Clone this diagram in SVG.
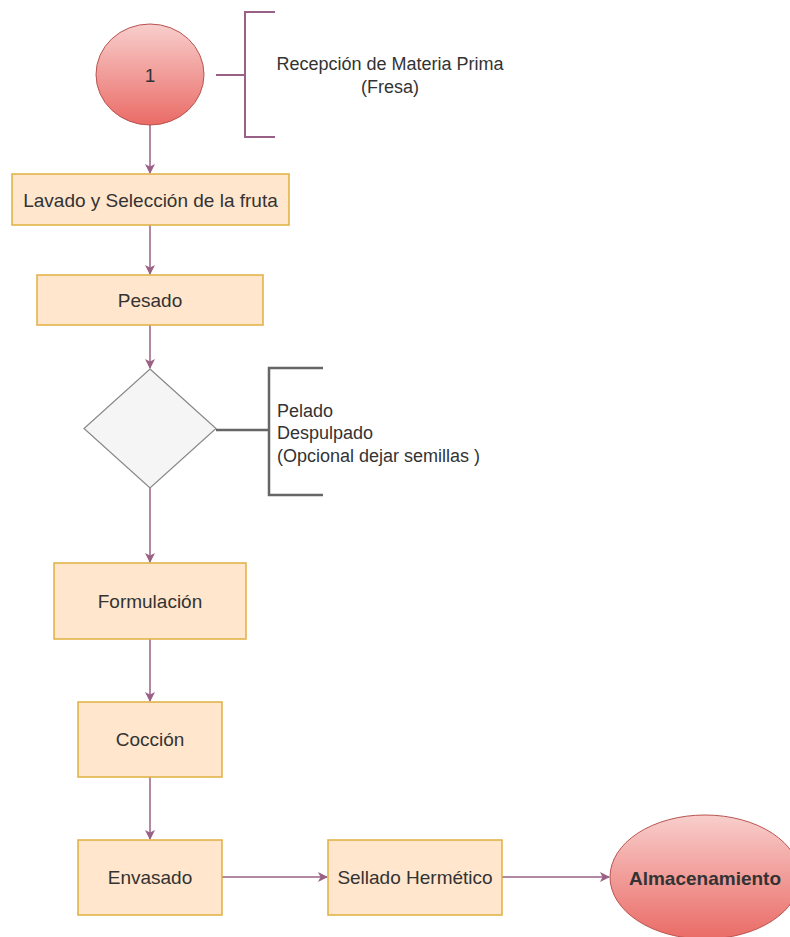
<svg xmlns="http://www.w3.org/2000/svg" width="790" height="937" viewBox="0 0 790 937">
<defs>
<linearGradient id="red" x1="0" y1="0" x2="0" y2="1">
<stop offset="0" stop-color="#f8cecc"/>
<stop offset="1" stop-color="#ea6b66"/>
</linearGradient>
<marker id="arr" viewBox="0 0 10 10" refX="9" refY="5" markerWidth="10" markerHeight="10" markerUnits="userSpaceOnUse" orient="auto">
<path d="M0,0 L10,5 L0,10 L2.5,5 Z" fill="#996185"/>
</marker>
<style>
.box{fill:#ffe6cc;stroke:#e0b040;stroke-width:1.5}
.circ{fill:url(#red);stroke:#b85450;stroke-width:1}
.t{font-family:"Liberation Sans",Arial,sans-serif;font-size:19px;fill:#333333;text-anchor:middle;dominant-baseline:central}
.lbl{font-family:"Liberation Sans",Arial,sans-serif;font-size:18px;fill:#333333;dominant-baseline:central}
.edge{fill:none;stroke:#996185;stroke-width:1.5;marker-end:url(#arr)}
</style>
</defs>
<g id="connectors">
<path class="edge" d="M150,125 V173"/>
<path class="edge" d="M150,225 V274"/>
<path class="edge" d="M150,325 V368"/>
<path class="edge" d="M150,488 V562"/>
<path class="edge" d="M150,639 V701"/>
<path class="edge" d="M150,777 V839"/>
<path class="edge" d="M222,877 H327"/>
<path class="edge" d="M502,877 H609"/>
</g>
<g id="start">
<ellipse class="circ" cx="150" cy="74.5" rx="54" ry="50.5"/>
<text class="t" x="150" y="75">1</text>
</g>
<g id="bracket1">
<path d="M216,75 H245 M275,12 H245 V137 H275" fill="none" stroke="#996185" stroke-width="2"/>
<text class="lbl" x="390" y="64" text-anchor="middle">Recepción de Materia Prima</text>
<text class="lbl" x="390" y="87" text-anchor="middle">(Fresa)</text>
</g>
<g id="lavado">
<rect class="box" x="12" y="174" width="277" height="51"/>
<text class="t" x="150.5" y="200">Lavado y Selección de la fruta</text>
</g>
<g id="pesado">
<rect class="box" x="37" y="275" width="226" height="50"/>
<text class="t" x="150" y="300">Pesado</text>
</g>
<g id="decision">
<polygon points="150,369 216,428.5 150,488 84,428.5" fill="#f5f5f5" stroke="#888888" stroke-width="1.2"/>
</g>
<g id="bracket2">
<path d="M216,430 H269 M323,368 H269 V495 H323" fill="none" stroke="#666666" stroke-width="2.5"/>
<text class="lbl" x="277" y="410.5">Pelado</text>
<text class="lbl" x="277" y="433">Despulpado</text>
<text class="lbl" x="277" y="455.5">(Opcional dejar semillas )</text>
</g>
<g id="formulacion">
<rect class="box" x="54" y="563" width="192" height="76"/>
<text class="t" x="150" y="601">Formulación</text>
</g>
<g id="coccion">
<rect class="box" x="78" y="702" width="144" height="75"/>
<text class="t" x="150" y="739.5">Cocción</text>
</g>
<g id="envasado">
<rect class="box" x="78" y="840" width="144" height="75"/>
<text class="t" x="150" y="877.5">Envasado</text>
</g>
<g id="sellado">
<rect class="box" x="328" y="840" width="174" height="75"/>
<text class="t" x="415" y="877.5">Sellado Hermético</text>
</g>
<g id="almacenamiento">
<ellipse class="circ" cx="705" cy="877" rx="95" ry="62"/>
<text class="t" x="705" y="878" font-weight="bold" fill="#000000">Almacenamiento</text>
</g>
</svg>
